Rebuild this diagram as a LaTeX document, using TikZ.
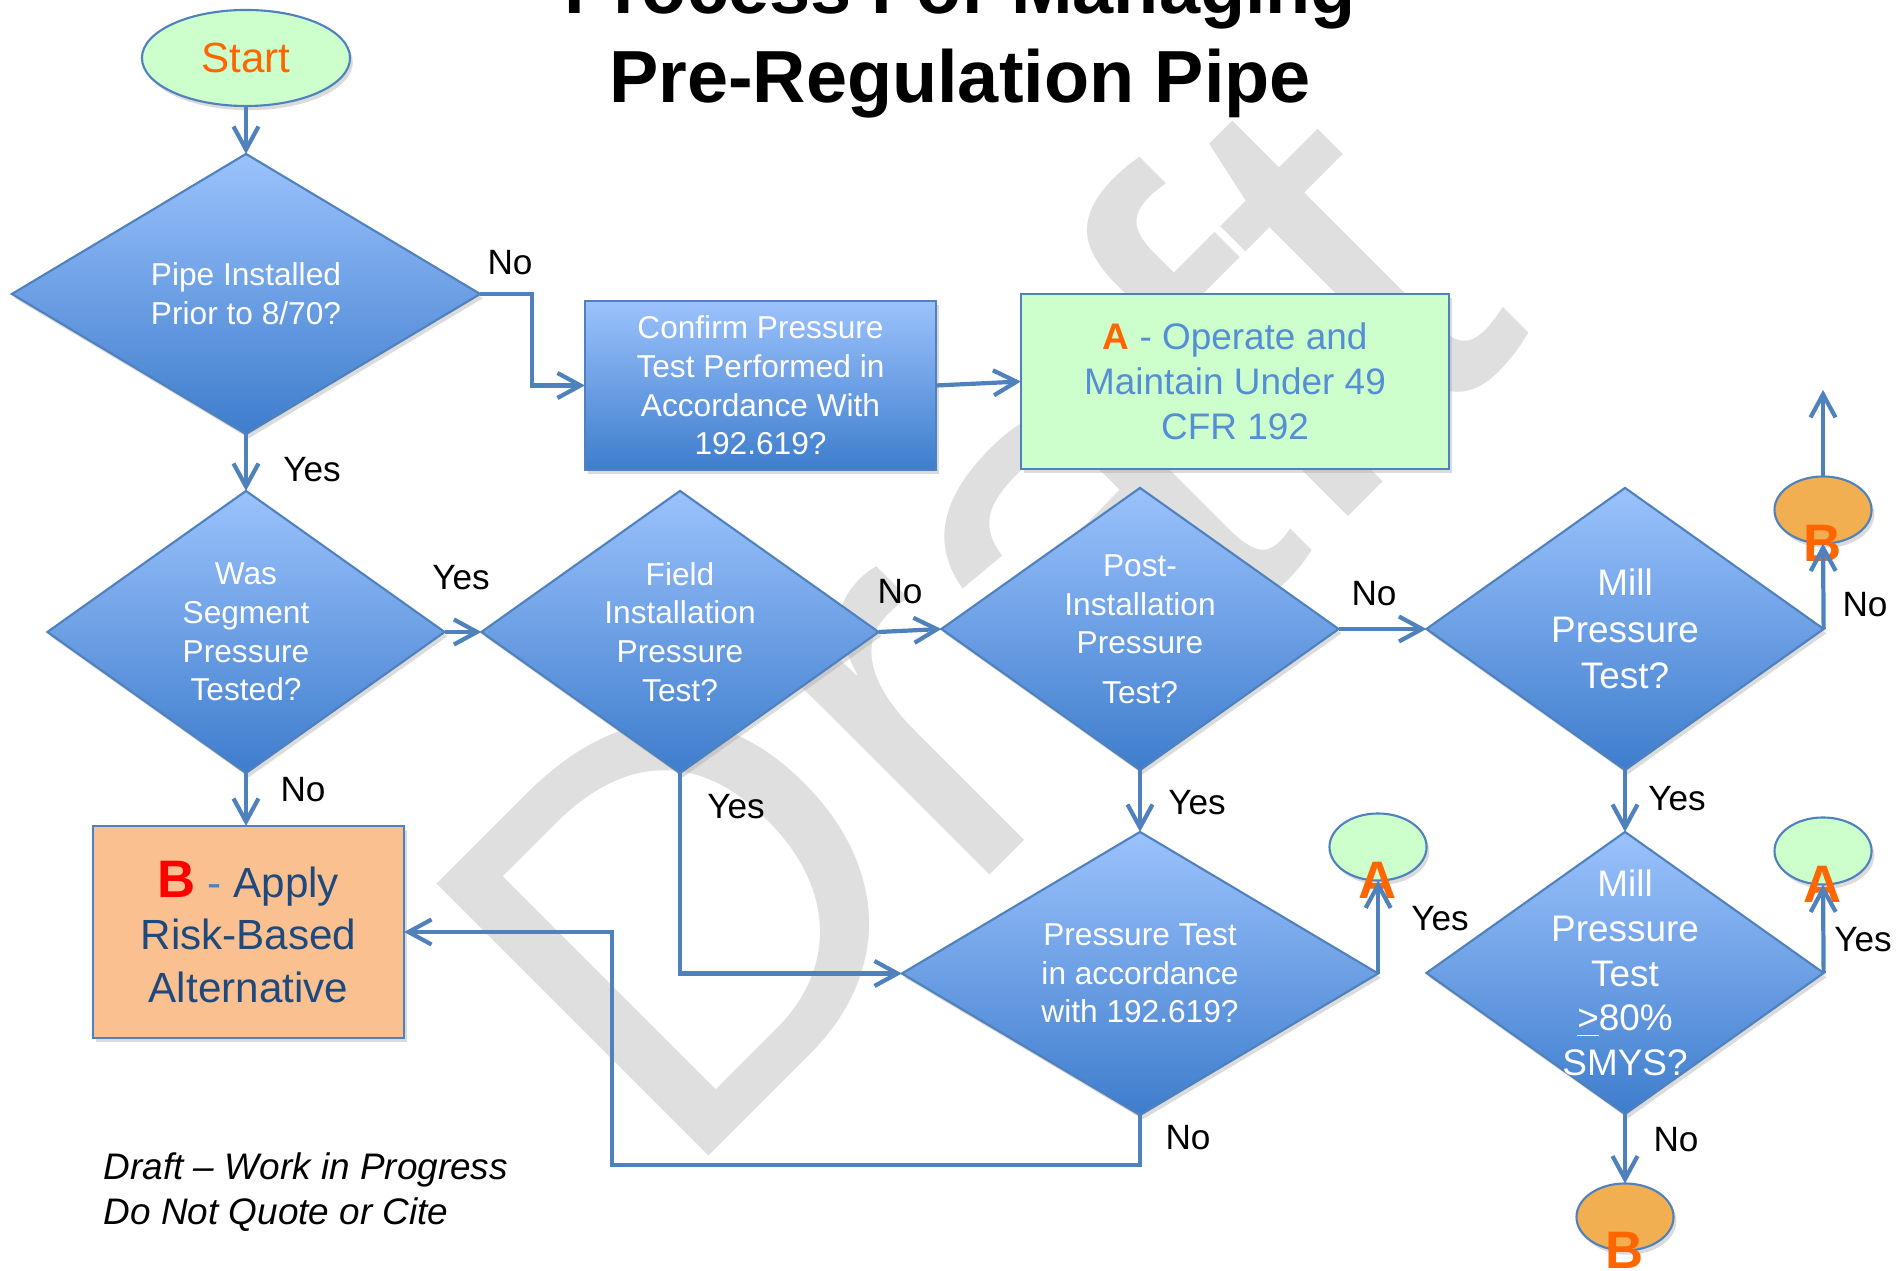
\documentclass[tikz,border=0pt]{standalone}
\usepackage{fontspec}
\setmainfont{Liberation Sans}
\usetikzlibrary{shapes.geometric,arrows.meta,shadows}
\usepackage{xcolor}
\definecolor{lineblue}{RGB}{79,129,189}
\definecolor{diatop}{RGB}{155,194,252}
\definecolor{diabot}{RGB}{62,125,205}
\definecolor{boxgreen}{RGB}{204,255,204}
\definecolor{boxorange}{RGB}{250,192,144}
\definecolor{dotorange}{RGB}{241,175,82}
\definecolor{letterorange}{RGB}{255,102,0}
\definecolor{textblue}{RGB}{85,142,213}
\definecolor{darkblue}{RGB}{31,73,125}
\definecolor{wmgray}{RGB}{223,223,223}

\begin{document}
\begin{tikzpicture}[x=0.01cm,y=-0.01cm,
        >={Straight Barb[length=2.3mm,width=2.5mm]},
        flow/.style={->,draw=lineblue,line width=1.2pt},
        softshadow/.style={drop shadow={shadow xshift=0.8pt,shadow yshift=-1.2pt,fill=black!35,opacity=.4}},
        decision/.style={diamond,draw=lineblue,line width=0.6pt,top color=diatop,bottom color=diabot,
            inner sep=0pt,outer sep=0pt,minimum width=3.97cm,minimum height=2.82cm,softshadow},
        dtext/.style={text=white,align=center,inner sep=0pt,font=\fontsize{9}{11}\selectfont},
        bigtext/.style={text=white,align=center,inner sep=0pt,font=\fontsize{10.5}{13.2}\selectfont},
        procbox/.style={rectangle,draw=lineblue,line width=0.6pt,top color=diatop,bottom color=diabot,
            inner sep=2pt,outer sep=0pt,text=white,align=center,font=\fontsize{9}{11}\selectfont,softshadow},
        endbox/.style={rectangle,draw=lineblue,line width=0.6pt,inner sep=2pt,outer sep=0pt,align=center,softshadow},
        dotletter/.style={anchor=center,inner sep=0pt,text=letterorange,font=\fontsize{15}{15}\selectfont\bfseries},
        conn/.style={ellipse,draw=lineblue,line width=0.6pt,inner sep=0pt,outer sep=0pt,
            minimum width=0.97cm,minimum height=0.67cm,softshadow},
        connA/.style={conn,fill=boxgreen,label={[dotletter]south:A}},
        connB/.style={conn,fill=dotorange,label={[dotletter]south:B}},
        answer/.style={inner sep=0pt,font=\fontsize{10}{10}\selectfont},
        title/.style={anchor=base,inner sep=0pt,font=\fontsize{21}{25}\selectfont\bfseries}]
        \useasboundingbox (0,0) rectangle (1901,1271);

        %watermark behind everything
        \node[rotate=45,anchor=base,inner sep=0pt,text=wmgray,font=\fontsize{159}{159}\selectfont] (wm) at (1105,760) {Draft};

        %title
        \node[title] (title1) at (960,14) {Process For Managing};
        \node[title] (title2) at (960,103) {Pre-Regulation Pipe};

        %start and first question
        \node[ellipse,draw=lineblue,line width=0.6pt,fill=boxgreen,inner sep=0pt,outer sep=0pt,
            minimum width=2.08cm,minimum height=0.96cm,text=letterorange,
            font=\fontsize{12}{12}\selectfont,softshadow] (start) at (246,58) {Start};
        \node[decision,minimum width=4.68cm,minimum height=2.80cm] (d1) at (246,294) {};
        \node[dtext] (d1t) at (d1) {Pipe Installed\\Prior to 8/70?};

        %top boxes
        \node[procbox,minimum width=3.51cm,minimum height=1.69cm] (box1) at (760.5,385.5)
            {Confirm Pressure\\Test Performed in\\Accordance With\\192.619?};
        \node[endbox,fill=boxgreen,minimum width=4.28cm,minimum height=1.75cm,text=textblue,
            font=\fontsize{10.5}{12.8}\selectfont] (boxA) at (1235,381.5)
            {\textcolor{letterorange}{\bfseries A} - Operate and\\Maintain Under 49\\CFR 192};

        %second row of questions
        \node[decision] (d2) at (246,632) {};
        \node[dtext] (d2t) at (d2) {Was\\Segment\\Pressure\\Tested?};
        \node[decision] (d3) at (680,632) {};
        \node[dtext] (d3t) at (d3) {Field\\Installation\\Pressure\\Test?};
        \node[decision] (d4) at (1140,629) {};
        \node[dtext] (d4t) at (d4) {Post-\\Installation\\Pressure\\[3pt]Test?};
        \node[decision] (d5) at (1625,629) {};
        \node[bigtext] (d5t) at (d5) {Mill\\Pressure\\Test?};

        %third row
        \node[endbox,fill=boxorange,minimum width=3.11cm,minimum height=2.12cm,text=darkblue,
            font=\fontsize{12}{15}\selectfont] (boxB) at (248.5,932)
            {{\bfseries\fontsize{15}{15}\selectfont\color{red}B} \textcolor{lineblue}{-} Apply\\Risk-Based\\Alternative};
        \node[decision,minimum width=4.76cm,minimum height=2.83cm] (d6) at (1140,973.5) {};
        \node[dtext] (d6t) at (d6) {Pressure Test\\in accordance\\with 192.619?};
        \node[decision] (d7) at (1625,973) {};
        \node[bigtext,font=\fontsize{10.5}{12.7}\selectfont] (d7t) at (d7)
            {Mill\\Pressure\\Test\\\underline{>}80\%\\SMYS?};

        %connectors to the A and B procedures
        \node[connB] (btop) at (1823,510) {};
        \coordinate (exit) at (1823,390);
        \node[connA] (a1) at (1378,847) {};
        \node[connA] (a2) at (1823,851) {};
        \node[connB] (bbot) at (1625,1217) {};

        %flow lines
        \draw[flow] (start.south) -- (d1.north);
        \draw[flow] (d1.east) -- ++(52,0) |- (box1.west);
        \draw[flow] (box1.east) -- (boxA.west);
        \draw[flow] (d1.south) -- (d2.north);
        \draw[flow] (d2.east) -- (d3.west);
        \draw[flow] (d3.east) -- (d4.west);
        \draw[flow] (d4.east) -- (d5.west);
        \draw[flow] (d5.east) -- (btop.south);
        \draw[flow] (btop.north) -- (exit);
        \draw[flow] (d2.south) -- (d2.south |- boxB.north);
        \draw[flow] (d3.south) |- (d6.west);
        \draw[flow] (d4.south) -- (d6.north);
        \draw[flow] (d6.east) -- (d6.east |- a1.south);
        \draw[flow] (d6.south) -- ++(0,50) -| ([xshift=2.08cm]boxB.east) -- (boxB.east);
        \draw[flow] (d5.south) -- (d7.north);
        \draw[flow] (d7.east) -- (a2.south);
        \draw[flow] (d7.south) -- (bbot.north);

        %answers
        \foreach \nm/\x/\y/\t in {no1/510/263/No, yes1/312/470/Yes, yes2/461/578/Yes, no2/900/592/No,
            no3/1374/594/No, no4/1865/605/No, no5/303/790/No, yes3/736/807/Yes, yes4/1197/803/Yes,
            yes5/1440/919/Yes, no6/1188/1138/No, yes6/1677/799/Yes, yes7/1863/940/Yes, no7/1676/1140/No}
        \node[answer] (\nm) at (\x,\y) {\t};

        %note at the bottom
        \node[anchor=west,align=left,inner sep=0pt,font=\fontsize{10.5}{12.8}\selectfont\itshape] (note) at (103,1192)
            {Draft \textendash{} Work in Progress\\Do Not Quote or Cite};
\end{tikzpicture}
\end{document}
